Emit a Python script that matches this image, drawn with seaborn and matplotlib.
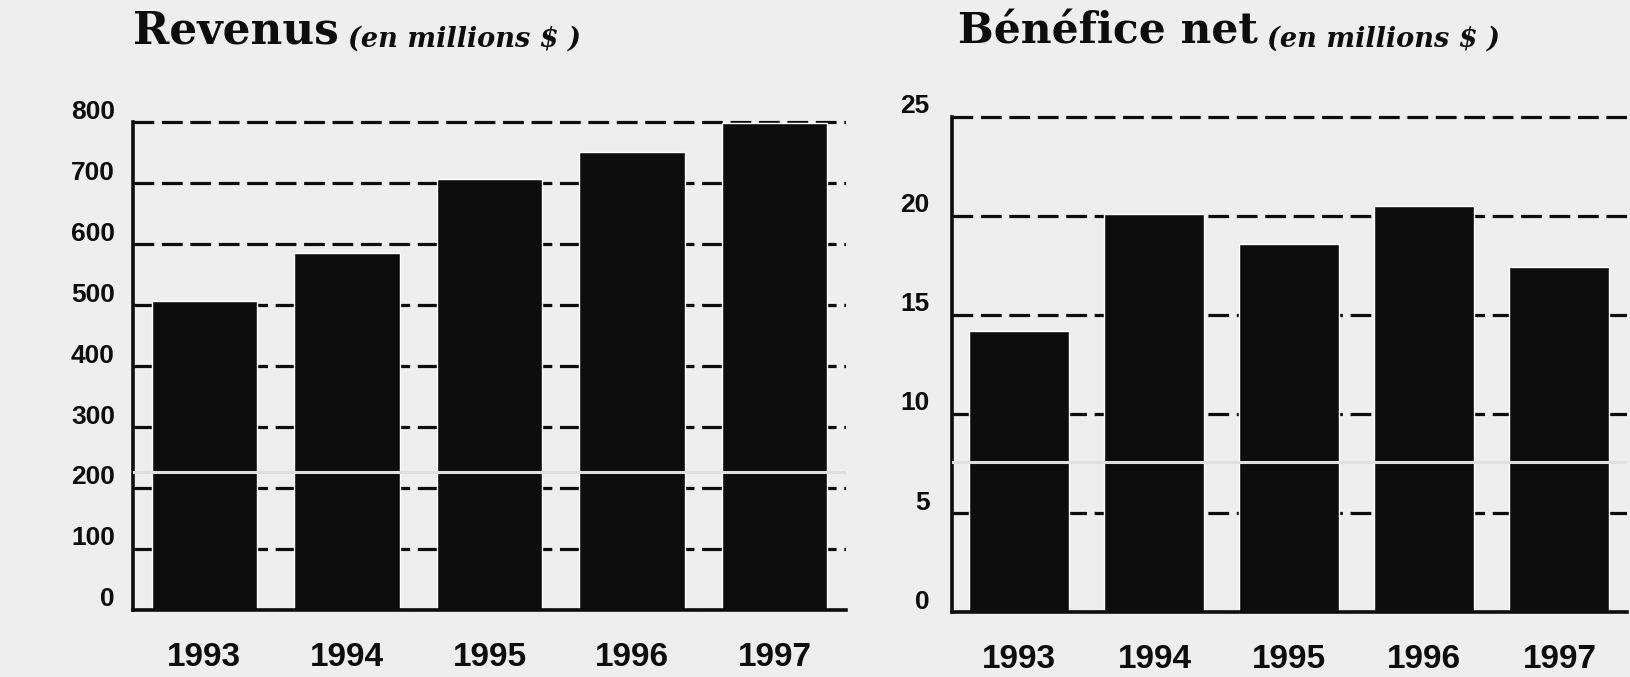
import matplotlib
matplotlib.use("Agg")
import matplotlib.pyplot as plt
import matplotlib.transforms as mtransforms
import seaborn as sns
import pandas as pd

# ---- data ----
years = ["1993", "1994", "1995", "1996", "1997"]
revenus = [507, 586, 707, 751, 798]            # millions $
benefice = [14.2, 20.1, 18.6, 20.5, 17.4]      # millions $
revenus_ticks = [0, 100, 200, 300, 400, 500, 600, 700, 800]
benefice_ticks = [0, 5, 10, 15, 20, 25]
titles = ["Revenus", "Bénéfice net"]
subtitle = "(en millions $ )"
scan_line_levels = [226, 7.6]   # light fold line visible across the bars in the scan

sns.set_theme(style="white")
plt.rcParams["font.family"] = ["Liberation Sans", "DejaVu Sans"]

BG = "#eeeeee"
INK = "#0d0d0d"
DPI = 100

fig = plt.figure(figsize=(16.3, 6.77), dpi=DPI, facecolor=BG)
ax1 = fig.add_axes([0.0816, 0.0990, 0.4374, 0.7297])
ax2 = fig.add_axes([0.5840, 0.0960, 0.4141, 0.7400])


def panel(ax, values, ticks, ymax, title, title_xy, scan_level, ylab_pad, title_size):
    df = pd.DataFrame({"annee": years, "valeur": values})
    ax.set_facecolor(BG)
    sns.barplot(data=df, x="annee", y="valeur", color=INK, saturation=1,
                width=0.74, ax=ax, zorder=2)
    ax.set_xlim(-0.5, len(years) - 0.5)
    ax.set_ylim(0, ymax)
    ax.set_yticks(ticks)
    ax.set_yticklabels([str(t) for t in ticks])
    ax.set_xlabel("")
    ax.set_ylabel("")

    # dashed horizontal grid behind the bars
    ax.set_axisbelow(True)
    ax.yaxis.grid(True, color=INK, lw=2.3, linestyle=(0, (6.5, 2.4)))
    ax.xaxis.grid(False)

    # fold line of the scan (light, only really visible over the dark bars)
    ax.axhline(scan_level, color="#dfdfdf", lw=2.2, zorder=3)

    for s in ("top", "right"):
        ax.spines[s].set_visible(False)
    for s in ("left", "bottom"):
        ax.spines[s].set_color(INK)
        ax.spines[s].set_linewidth(2.6)
    ax.spines["left"].set_bounds(0, ticks[-1])

    ax.tick_params(axis="y", direction="inout", length=10, width=2,
                   color=INK, pad=ylab_pad, labelsize=19, labelcolor=INK)
    ax.tick_params(axis="x", which="major", length=0, pad=23,
                   labelsize=24, labelcolor=INK)
    ax.set_xticks([i + 0.5 for i in range(len(years))], minor=True)
    ax.tick_params(axis="x", which="minor", direction="in", length=7,
                   width=2.2, color=INK)

    for lbl in ax.get_yticklabels():
        lbl.set_weight("bold")
        lbl.set_transform(lbl.get_transform() +
                          mtransforms.ScaledTranslation(0, 13 / DPI, fig.dpi_scale_trans))
    for lbl in ax.get_xticklabels():
        lbl.set_weight("bold")

    t = fig.text(title_xy[0], title_xy[1], title, family="DejaVu Serif",
                 weight="bold", size=title_size, color=INK, ha="left", va="baseline")
    fig.canvas.draw()
    ax.annotate(subtitle, xy=(1, 0), xycoords=t, xytext=(9, 0),
                textcoords="offset pixels", family="DejaVu Serif",
                style="italic", weight="bold", size=19.5, color=INK,
                ha="left", va="bottom", annotation_clip=False)


panel(ax1, revenus, revenus_ticks, 810, titles[0],
      (133 / 1630, 1 - 44 / 677), scan_line_levels[0], 8, 31.5)
panel(ax2, benefice, benefice_ticks, 25.3, titles[1],
      (958 / 1630, 1 - 44 / 677), scan_line_levels[1], 11, 30.5)

fig.savefig("out.png", dpi=DPI, facecolor=BG)
